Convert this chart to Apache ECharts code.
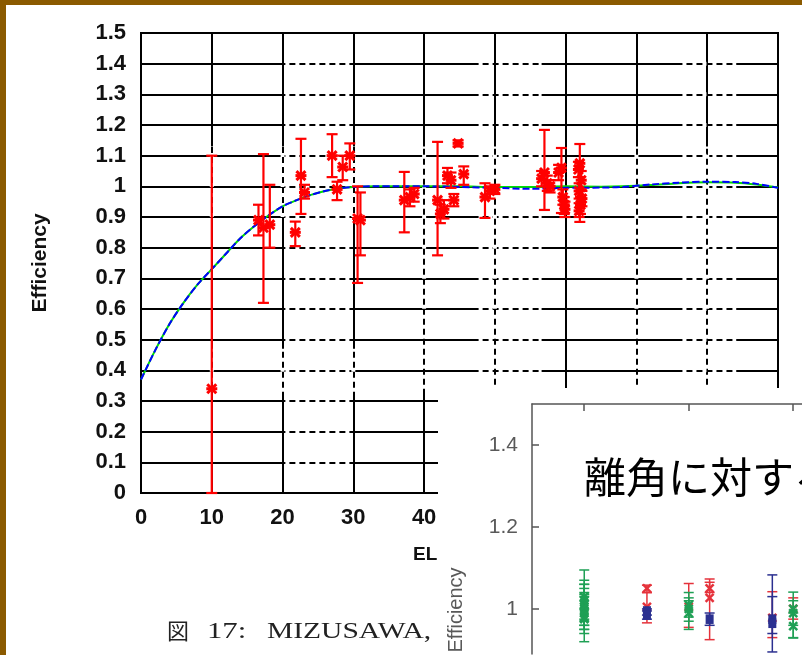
<!DOCTYPE html>
<html>
<head>
<meta charset="utf-8">
<script src="https://cdn.jsdelivr.net/npm/echarts@6/dist/echarts.min.js"></script>
<style>
  html, body { margin: 0; padding: 0; background: #fff; }
  #chart { width: 802px; height: 655px; }
</style>
</head>
<body>
<div id="chart"></div>
<script>
// ---------- EL dependence of efficiency (main plot) ----------
const elTicks = [0, 10, 20, 30, 40, 50, 60, 70, 80, 90];
const effTicks = [0, 0.1, 0.2, 0.3, 0.4, 0.5, 0.6, 0.7, 0.8, 0.9, 1.0, 1.1, 1.2, 1.3, 1.4, 1.5];

// measured points: elevation [deg], efficiency, lower / upper error limits
const elDeg   = [10.0, 16.6, 17.3, 18.2, 21.8, 22.6, 23.1, 27.0, 27.7, 28.5, 29.5, 30.6, 31.0,
                 37.2, 38.0, 38.6, 41.9, 42.3, 42.8, 43.3, 43.8, 44.2, 44.8, 45.6, 48.6, 49.3, 50.0,
                 57.0, 56.6, 57.4, 57.8, 59.4, 59.0, 59.6, 59.8, 59.9, 62.0, 61.8, 62.2, 61.9, 62.3, 62.1, 61.9];
const effVal  = [0.34, 0.89, 0.865, 0.875, 0.85, 1.035, 0.98, 1.10, 0.99, 1.063, 1.10, 0.895, 0.89,
                 0.955, 0.965, 0.975, 0.955, 0.91, 0.925, 1.035, 1.02, 0.955, 1.14, 1.04, 0.965, 0.985, 0.99,
                 1.045, 1.025, 1.01, 1.0, 1.06, 1.045, 0.965, 0.94, 0.925, 1.075, 1.055, 1.02, 0.985, 0.96, 0.94, 0.92];
const effLow  = [0.0, 0.84, 0.62, 0.80, 0.805, 0.91, 0.96, 1.03, 0.955, 1.02, 1.055, 0.685, 0.775,
                 0.85, 0.935, 0.95, 0.775, 0.88, 0.895, 1.01, 0.995, 0.935, 1.13, 1.005, 0.897, 0.96, 0.975,
                 0.923, 1.0, 0.985, 0.98, 0.913, 1.02, 0.94, 0.91, 0.9, 0.884, 1.03, 0.99, 0.96, 0.935, 0.91, 0.9];
const effHigh = [1.10, 0.94, 1.105, 1.005, 0.885, 1.155, 1.005, 1.17, 1.015, 1.10, 1.14, 1.0, 0.98,
                 1.047, 0.99, 0.995, 1.145, 0.94, 0.955, 1.06, 1.045, 0.975, 1.15, 1.065, 1.01, 1.0, 1.005,
                 1.184, 1.05, 1.035, 1.02, 1.125, 1.07, 0.99, 0.965, 0.95, 1.138, 1.08, 1.05, 1.01, 0.985, 0.965, 0.945];

// fitted efficiency curves
const fitEl    = [0, 2, 4, 6, 8, 10, 12, 14, 16, 18, 20, 22, 24, 26, 28, 30, 33, 36, 40, 45, 50, 55, 60, 65, 68, 72, 76, 80, 84, 87, 90];
const fitBlue  = [0.37, 0.465, 0.55, 0.62, 0.68, 0.73, 0.78, 0.83, 0.87, 0.905, 0.935, 0.955, 0.972, 0.985, 0.993, 0.998,
                  1.0, 1.0, 1.0, 0.998, 0.995, 0.992, 0.995, 0.996, 0.998, 1.006, 1.012, 1.015, 1.014, 1.008, 0.995];
const fitGreen = [0.37, 0.465, 0.55, 0.62, 0.68, 0.73, 0.78, 0.83, 0.87, 0.905, 0.935, 0.955, 0.972, 0.985, 0.993, 0.998,
                  1.0, 1.0, 1.0, 1.0, 0.998, 0.998, 1.0, 0.999, 1.0, 1.004, 1.01, 1.013, 1.012, 1.006, 0.996];

// ---------- separation-angle plot (inset) ----------
const sepTicks = [10, 20, 30];
const insetEffTicks = [1.0, 1.2, 1.4];
const greenAng = [10, 10, 10, 10, 10, 10, 10, 10, 10, 20, 20, 20, 30, 30, 30];
const greenEff = [1.00, 0.98, 1.02, 0.99, 1.01, 0.975, 1.03, 0.995, 1.005, 1.0, 1.01, 0.99, 1.0, 0.958, 0.99];
const greenLo  = [0.92, 0.94, 0.96, 0.95, 0.96, 0.95, 1.0, 0.97, 0.975, 0.95, 0.98, 0.97, 0.929, 0.93, 0.96];
const greenHi  = [1.095, 1.06, 1.07, 1.04, 1.05, 1.03, 1.06, 1.02, 1.035, 1.027, 1.04, 1.02, 1.041, 0.99, 1.02];
const redAng   = [16, 16, 20, 22, 22, 28, 30];
const redEff   = [1.05, 1.005, 1.005, 1.05, 1.027, 0.978, 1.0];
const redLo    = [1.04, 0.966, 0.955, 1.04, 0.925, 0.93, 0.975];
const redHi    = [1.058, 1.04, 1.062, 1.065, 1.073, 1.042, 1.027];
const blueAng  = [16, 16, 22, 28, 28];
const blueEff  = [0.995, 0.985, 0.975, 0.975, 0.965];
const blueLo   = [0.985, 0.975, 0.96, 0.895, 0.94];
const blueHi   = [1.0, 0.995, 0.99, 1.083, 1.03];

// ---------- helpers ----------
const rows = (xs, ys, lo, hi) => xs.map((x, i) => [x, ys[i], lo[i], hi[i]]);

function markerShape(kind, cx, cy, h, color, lw) {
  if (kind === 'square') {
    return { type: 'rect', shape: { x: cx - h, y: cy - h * 1.2, width: 2 * h, height: 2.4 * h },
             style: { fill: color } };
  }
  const parts = [
    { type: 'line', shape: { x1: cx - h, y1: cy - h, x2: cx + h, y2: cy + h }, style: { stroke: color, lineWidth: lw } },
    { type: 'line', shape: { x1: cx - h, y1: cy + h, x2: cx + h, y2: cy - h }, style: { stroke: color, lineWidth: lw } }
  ];
  if (kind === 'xbar') {
    parts.push({ type: 'line', shape: { x1: cx - h - 1, y1: cy, x2: cx + h + 1, y2: cy }, style: { stroke: color, lineWidth: lw } });
  }
  return { type: 'group', children: parts };
}

function errorBars(color, kind, cap, lw, mh, mlw) {
  return function (params, api) {
    const x = api.value(0);
    const p = api.coord([x, api.value(1)]);
    const lo = api.coord([x, api.value(2)]);
    const hi = api.coord([x, api.value(3)]);
    const st = { stroke: color, lineWidth: lw };
    return {
      type: 'group',
      children: [
        { type: 'line', shape: { x1: p[0], y1: lo[1], x2: p[0], y2: hi[1] }, style: st },
        { type: 'line', shape: { x1: p[0] - cap, y1: lo[1], x2: p[0] + cap, y2: lo[1] }, style: st },
        { type: 'line', shape: { x1: p[0] - cap, y1: hi[1], x2: p[0] + cap, y2: hi[1] }, style: st },
        markerShape(kind, p[0], p[1], mh, color, mlw)
      ]
    };
  };
}

// dashed stretches of the grid (white gaps laid over the solid grid lines)
const dashLayout = {
  rowsA: [0.1, 0.2, 0.3, 0.4, 0.5, 0.6, 0.7, 0.8, 0.9, 1.0, 1.1, 1.2, 1.3, 1.4],
  spanA: [[20.4, 29.6]],
  rowsB: [0.4, 0.5, 0.6, 0.7, 0.8, 0.9, 1.0, 1.1, 1.2, 1.3, 1.4],
  spanB: [[47.7, 56.6], [76.5, 84.1]],
  colsA: [10, 20, 30],
  colSpanA: [[0.9, 1.13], [0.33, 0.47]],
  colsB: [40, 50, 70, 80],
  colSpanB: [[0.34, 1.13]]
};
const gapSegments = [];
dashLayout.rowsA.forEach(y => dashLayout.spanA.forEach(s => gapSegments.push([s[0], y, s[1], y])));
dashLayout.rowsB.forEach(y => dashLayout.spanB.forEach(s => gapSegments.push([s[0], y, s[1], y])));
dashLayout.colsA.forEach(x => dashLayout.colSpanA.forEach(s => gapSegments.push([x, s[0], x, s[1]])));
dashLayout.colsB.forEach(x => dashLayout.colSpanB.forEach(s => gapSegments.push([x, s[0], x, s[1]])));

const sans = '"Liberation Sans", Arial, sans-serif';
const serif = '"Liberation Serif", "Times New Roman", serif';
const cjk = '"Noto Sans CJK JP", sans-serif';

const chart = echarts.init(document.getElementById('chart'), null, { renderer: 'canvas', width: 802, height: 655 });

chart.setOption({
  animation: false,
  backgroundColor: '#fff',
  grid: [
    { left: 141, top: 33, width: 637, height: 460, show: true, borderColor: '#000', borderWidth: 2, backgroundColor: 'transparent' },
    { left: 532, top: 404, width: 270, height: 250, show: false }
  ],
  xAxis: [
    {
      gridIndex: 0, type: 'value', min: 0, max: 90, interval: 10,
      axisLine: { show: true, lineStyle: { color: '#000', width: 2 } },
      axisTick: { show: false },
      axisLabel: { color: '#111', fontSize: 22, fontWeight: 'bold', fontFamily: sans, margin: 14,
                   customValues: elTicks },
      splitLine: { show: true, lineStyle: { color: '#000', width: 2 } }
    },
    {
      gridIndex: 1, type: 'value', min: 5, max: 30.84, position: 'top', z: 20,
      axisLine: { show: true, lineStyle: { color: '#555', width: 1.5 } },
      axisTick: { show: true, inside: true, length: 7, customValues: sepTicks, lineStyle: { color: '#555', width: 1.5 } },
      axisLabel: { show: false },
      splitLine: { show: false }
    }
  ],
  yAxis: [
    {
      gridIndex: 0, type: 'value', min: 0, max: 1.5, interval: 0.1,
      axisLine: { show: true, lineStyle: { color: '#000', width: 2 } },
      axisTick: { show: false },
      axisLabel: { color: '#111', fontSize: 22, fontWeight: 'bold', fontFamily: sans, margin: 15,
                   customValues: effTicks,
                   formatter: v => (Math.round(v * 10) / 10).toString() },
      splitLine: { show: true, lineStyle: { color: '#000', width: 2 } }
    },
    {
      gridIndex: 1, type: 'value', min: 0.89, max: 1.5, z: 20,
      axisLine: { show: true, lineStyle: { color: '#555', width: 1.5 } },
      axisTick: { show: true, inside: true, length: 7, customValues: insetEffTicks, lineStyle: { color: '#555', width: 1.5 } },
      axisLabel: { color: '#595959', fontSize: 21, fontFamily: sans, margin: 14,
                   customValues: insetEffTicks,
                   formatter: v => (Math.round(v * 10) / 10).toString() },
      splitLine: { show: false }
    }
  ],
  graphic: [
    { type: 'rect', z: 30, shape: { x: 0, y: 0, width: 802, height: 5 }, style: { fill: '#8B5A00' } },
    { type: 'rect', z: 30, shape: { x: 0, y: 0, width: 6, height: 655 }, style: { fill: '#8B5A00' } },
    { type: 'text', z: 5, x: 40, y: 263, rotation: Math.PI / 2,
      style: { text: 'Efficiency', font: 'bold 21px ' + sans, fill: '#111', align: 'center', verticalAlign: 'middle' } },
    { type: 'text', z: 5, x: 413, y: 555,
      style: { text: 'EL', font: 'bold 19px ' + sans, fill: '#111', align: 'left', verticalAlign: 'middle' } },
    { type: 'text', z: 5, x: 167, y: 631,
      style: { text: '図', font: '22px ' + cjk, fill: '#222', align: 'left', verticalAlign: 'middle' } },
    { type: 'text', z: 5, x: 207, y: 632, scaleX: 1.28,
      style: { text: '17:', font: '24px ' + serif, fill: '#222', align: 'left', verticalAlign: 'middle' } },
    { type: 'text', z: 5, x: 267, y: 632, scaleX: 1.23,
      style: { text: 'MIZUSAWA,', font: '24px ' + serif, fill: '#222', align: 'left', verticalAlign: 'middle' } },
    // inset panel
    { type: 'rect', z: 10, shape: { x: 438, y: 388, width: 364, height: 267 }, style: { fill: '#fff' } },
    { type: 'text', z: 22, x: 584, y: 477,
      style: { text: '離角に対する', font: '42px ' + cjk, fill: '#000', align: 'left', verticalAlign: 'middle' } },
    { type: 'text', z: 22, x: 456, y: 610, rotation: Math.PI / 2,
      style: { text: 'Efficiency', font: '20px ' + sans, fill: '#595959', align: 'center', verticalAlign: 'middle' } }
  ],
  series: [
    {
      type: 'custom', xAxisIndex: 0, yAxisIndex: 0, z: 1, silent: true,
      data: gapSegments, encode: { x: [0, 2], y: [1, 3] },
      renderItem: (params, api) => {
        const a = api.coord([api.value(0), api.value(1)]);
        const b = api.coord([api.value(2), api.value(3)]);
        return { type: 'line', shape: { x1: a[0], y1: a[1], x2: b[0], y2: b[1] },
                 style: { stroke: '#fff', lineWidth: 4, lineDash: [4, 6] } };
      }
    },
    {
      type: 'line', xAxisIndex: 0, yAxisIndex: 0, z: 3, showSymbol: false, smooth: 0.3,
      data: fitEl.map((x, i) => [x, fitGreen[i]]),
      lineStyle: { color: '#00dd00', width: 2 }
    },
    {
      type: 'line', xAxisIndex: 0, yAxisIndex: 0, z: 4, showSymbol: false, smooth: 0.3,
      data: fitEl.map((x, i) => [x, fitBlue[i]]),
      lineStyle: { color: '#0000ff', width: 2, type: [7, 3] }
    },
    {
      type: 'custom', xAxisIndex: 0, yAxisIndex: 0, z: 5,
      data: rows(elDeg, effVal, effLow, effHigh), encode: { x: 0, y: [1, 2, 3] },
      renderItem: errorBars('#ff0000', 'xbar', 5.5, 2.2, 4.5, 3)
    },
    {
      type: 'custom', xAxisIndex: 1, yAxisIndex: 1, z: 21,
      data: rows(redAng, redEff, redLo, redHi), encode: { x: 0, y: [1, 2, 3] },
      renderItem: errorBars('#e5323b', 'x', 5, 1.5, 4, 2.5)
    },
    {
      type: 'custom', xAxisIndex: 1, yAxisIndex: 1, z: 22,
      data: rows(blueAng, blueEff, blueLo, blueHi), encode: { x: 0, y: [1, 2, 3] },
      renderItem: errorBars('#2b3090', 'square', 5, 1.5, 4, 2)
    },
    {
      type: 'custom', xAxisIndex: 1, yAxisIndex: 1, z: 23,
      data: rows(greenAng, greenEff, greenLo, greenHi), encode: { x: 0, y: [1, 2, 3] },
      renderItem: errorBars('#1fa055', 'x', 5, 1.5, 4, 2.5)
    }
  ]
});
</script>
</body>
</html>
